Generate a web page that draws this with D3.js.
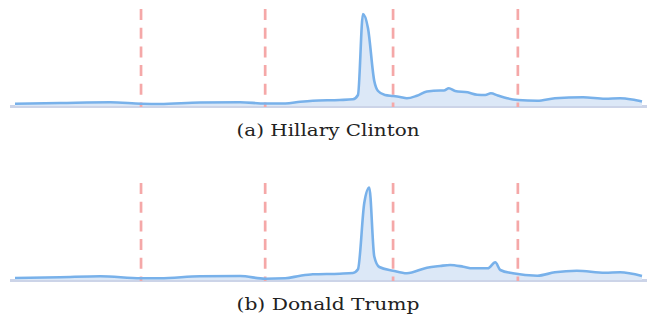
<!DOCTYPE html>
<html>
<head>
<meta charset="utf-8">
<script src="https://cdn.jsdelivr.net/npm/d3@7"></script>
<style>
  html, body { margin: 0; padding: 0; background: #fff; }
  svg { display: block; }
</style>
</head>
<body>
<svg id="chart" width="652" height="320"></svg>
<script>
// Time positions (percent of the observed window) and relative attention levels
const clintonT = [0, 7.2, 15.2, 20.1, 23.1, 29.5, 35.9, 39.9, 43.1, 45.5, 47.5, 51.8, 53.9, 54.7,
  55.5, 56.3, 57.3, 57.9, 59.0, 60.3, 61.4, 62.5, 64.1, 65.7, 67.8, 68.4, 69.2, 70.2, 72.2,
  73.7, 75.0, 75.9, 77.0, 78.5, 80.2, 83.3, 86.1, 90.6, 94.1, 96.5, 98.4, 100];
const clintonV = [2.3, 3.0, 3.7, 2.3, 2.0, 3.5, 3.7, 2.5, 2.5, 4.3, 5.3, 6.0, 6.7, 11,
  92, 77.7, 25, 15, 11, 10, 9, 7.7, 10.3, 14.5, 15.5, 15.5, 17.7, 15, 13.7,
  11.3, 11, 12.7, 10.5, 7.7, 6.0, 5.2, 7.7, 8.7, 7.3, 7.7, 6.5, 4.5];

const trumpT = [0, 7.2, 13.6, 20.1, 23.1, 29.5, 35.9, 39.9, 43.1, 45.5, 47.5, 51.8, 53.9, 54.7,
  55.7, 56.5, 57.3, 58.1, 60.3, 62.5, 65.7, 67.8, 69.4, 71.5, 73.0, 75.4, 76.6, 77.4, 79.4,
  83.3, 86.1, 89.6, 94.1, 96.5, 100];
const trumpV = [2.0, 2.8, 3.7, 1.7, 1.7, 3.7, 4.0, 1.3, 1.7, 4.3, 5.7, 6.3, 7.0, 10.7,
  76.7, 92.5, 23.5, 13, 9.3, 6.7, 12.3, 14, 15, 13.3, 11.7, 11.7, 17.7, 10, 6.7,
  4.3, 7.7, 9.3, 7.3, 7.7, 4.0];

// Event markers (dashed verticals)
const eventT = [20.1, 39.9, 60.3, 80.2];

const captions = ["(a) Hillary Clinton", "(b) Donald Trump"];

const panels = [
  { caption: captions[0], t: clintonT, v: clintonV },
  { caption: captions[1], t: trumpT, v: trumpV }
];

const svg = d3.select("#chart");
const panelOffset = 174;

const x = d3.scaleLinear().domain([0, 100]).range([15, 642]);
const y = d3.scaleLinear().domain([0, 100]).range([106, 6]);

const line = d3.line()
  .x(d => x(d.t)).y(d => y(d.v))
  .curve(d3.curveMonotoneX);
const area = d3.area()
  .x(d => x(d.t)).y0(y(0)).y1(d => y(d.v))
  .curve(d3.curveMonotoneX);

panels.forEach((p, i) => {
  const g = svg.append("g").attr("transform", `translate(0,${i * panelOffset})`);
  const data = p.t.map((t, k) => ({ t, v: p.v[k] }));

  // baseline band
  g.append("rect")
    .attr("x", 10).attr("width", 637)
    .attr("y", y(0) - 1).attr("height", 3)
    .attr("fill", "#ccd4e8");

  // filled area
  g.append("path").datum(data)
    .attr("d", area)
    .attr("fill", "#dce8f7");

  // event markers
  g.selectAll("line.event").data(eventT).join("line")
    .attr("class", "event")
    .attr("x1", d => x(d)).attr("x2", d => x(d))
    .attr("y1", 9).attr("y2", y(0) + 1)
    .attr("stroke", "#f5a8a8")
    .attr("stroke-width", 2.7)
    .attr("stroke-dasharray", "11,7.7");

  // series line
  g.append("path").datum(data)
    .attr("d", line)
    .attr("fill", "none")
    .attr("stroke", "#78b1ea")
    .attr("stroke-width", 2.6)
    .attr("stroke-linejoin", "round");

  // caption
  g.append("text")
    .attr("x", 328).attr("y", 136)
    .attr("text-anchor", "middle")
    .attr("font-family", "'DejaVu Serif', serif")
    .attr("font-size", 17.5)
    .attr("textLength", 183)
    .attr("lengthAdjust", "spacingAndGlyphs")
    .attr("fill", "#222")
    .text(p.caption);
});
</script>
</body>
</html>
